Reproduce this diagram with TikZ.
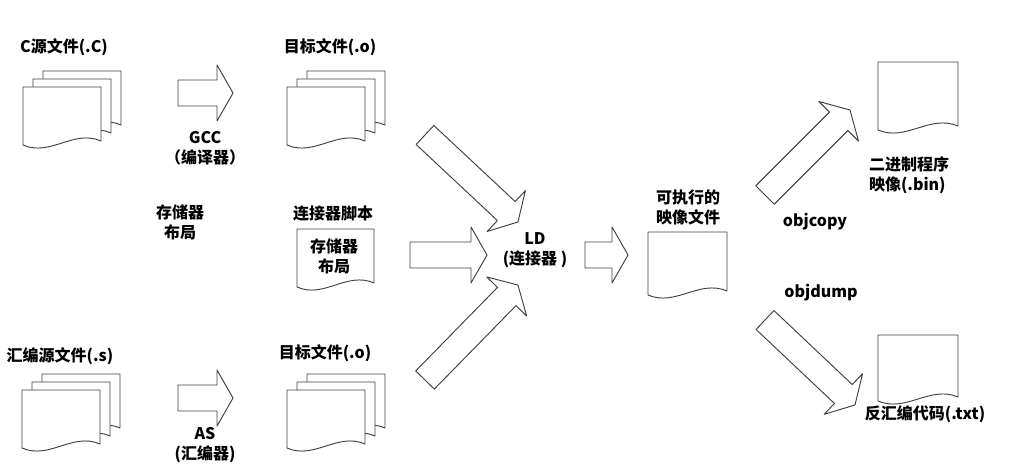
\documentclass[tikz,border=0pt]{standalone}
\usepackage{fontspec}
\setmainfont{Noto Sans CJK SC}[BoldFont={* Bold}]
\newfontfamily\cjk{Noto Sans CJK SC}
\begin{document}
\begin{tikzpicture}[x=0.75pt,y=-0.75pt,line width=0.7pt,
  lbl/.style={font=\cjk\bfseries\fontsize{12}{15}\selectfont,align=center,inner sep=0pt},
  shp/.style={draw=black!75,fill=white,line join=round}]
\useasboundingbox (0,0) rectangle (1013,475);
\newcommand\docpage[4]{%
  \draw[shp] (#1,#2+#4) -- (#1,#2) -- (#1+#3,#2) -- (#1+#3,#2+#4-4)
   .. controls (#1+0.65*#3,#2+#4-16) and (#1+0.35*#3,#2+#4+12) .. (#1,#2+#4) -- cycle;}
\newcommand\docstack[2]{\docpage{#1+20}{#2-16}{78}{58}\docpage{#1+10}{#2-8}{78}{58}\docpage{#1}{#2}{78}{58}}
\newcommand\barrow[4]{%
  \pgfmathsetmacro\ang{atan2(-(#4-#2),#3-#1)}%
  \pgfmathsetmacro\len{veclen(#3-#1,#4-#2)}%
  \begin{scope}[shift={(#1,#2)},rotate=\ang]
  \draw[shp] (0,-13) -- (\len-16,-13) -- (\len-16,-28) -- (\len,0) -- (\len-16,28) -- (\len-16,13) -- (0,13) -- cycle;
  \end{scope}}
% stacks
\docstack{23}{87}
\node[lbl] (csrc) at (64,47) {C源文件(.C)};
\docstack{287}{87}
\node[lbl] (obj1) at (330,47) {目标文件(.o)};
\docstack{22}{390}
\node[lbl] (asrc) at (60,356) {汇编源文件(.s)};
\docstack{287}{390}
\node[lbl] (obj2) at (325,353) {目标文件(.o)};
% script
\docpage{297}{229}{77}{58}
\node[lbl] (script) at (333,214) {连接器脚本};
\node[lbl] (mem2) at (334,256) {存储器\\布局};
\node[lbl] (mem1) at (180,222) {存储器\\布局};
% compile arrows
\barrow{178}{93}{233}{93}
\node[lbl] (gcc) at (205,148) {GCC\\（编译器）};
\barrow{178}{398}{233}{398}
\node[lbl] (as) at (205,445) {AS\\(汇编器)};
% LD arrows
\barrow{425}{135}{518}{222}
\barrow{410}{255}{487}{255}
\barrow{425}{380}{518}{285}
\node[lbl] (ld) at (535,250) {LD\\(连接器 )};
\barrow{585}{255}{628}{255}
% exe
\docpage{648}{232}{79}{63}
\node[lbl] (exe) at (688,207) {可执行的\\映像文件};
\barrow{765}{195}{850}{110}
\node[lbl] (objcopy) at (815,222) {objcopy};
\barrow{765}{320}{855}{405}
\node[lbl] (objdump) at (821,293) {objdump};
\docpage{878}{62}{80}{68}
\node[lbl,align=left] (bin) at (909,175) {二进制程序\\映像(.bin)};
\docpage{878}{335}{80}{66}
\node[lbl] (txt) at (925,414) {反汇编代码(.txt)};
\end{tikzpicture}
\end{document}
